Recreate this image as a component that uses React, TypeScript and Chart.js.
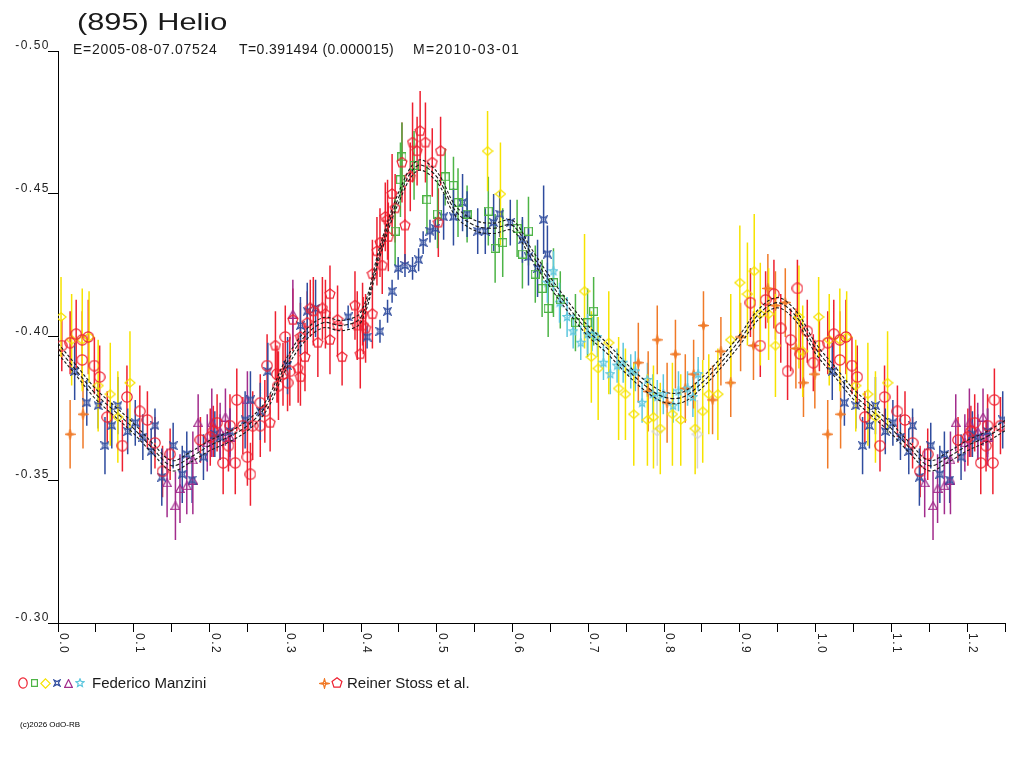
import { useEffect, useRef } from 'react';
import { Chart, registerables } from 'chart.js';

Chart.register(...registerables);

const FONT = '"Liberation Sans", Arial, Helvetica, sans-serif';

// one observation: [phase, magnitude, error]
type Obs = [number, number, number];

const xTickLabels = ['0.0', '0.1', '0.2', '0.3', '0.4', '0.5', '0.6', '0.7', '0.8', '0.9', '1.0', '1.1', '1.2'];
const yTickLabels = ['-0.50', '-0.45', '-0.40', '-0.35', '-0.30'];

// model light curve, sampled every 0.025 in phase (0 .. 1.25)
const modelPhase = Array.from({ length: 51 }, (_, i) => i * 0.025);
const modelMag = [
  -0.396, -0.388, -0.380, -0.374, -0.368, -0.361, -0.355, -0.358, -0.362, -0.365, -0.369,
  -0.376, -0.390, -0.400, -0.405, -0.404, -0.407, -0.430, -0.449, -0.460, -0.456,
  -0.444, -0.439, -0.438, -0.439, -0.429, -0.419, -0.410, -0.402, -0.396, -0.389,
  -0.383, -0.379, -0.379, -0.384, -0.391, -0.399, -0.408, -0.412, -0.407, -0.396,
  -0.388, -0.380, -0.374, -0.368, -0.361, -0.355, -0.358, -0.362, -0.365, -0.369,
];
const modelUpper = [
  -0.3978, -0.3898, -0.3818, -0.3758, -0.3698, -0.3628, -0.3568, -0.3598, -0.3638, -0.3668, -0.3708,
  -0.3778, -0.3918, -0.4018, -0.4068, -0.4058, -0.4088, -0.4318, -0.4508, -0.4618, -0.4578,
  -0.4458, -0.4408, -0.4398, -0.4408, -0.4308, -0.4208, -0.4118, -0.4038, -0.3978, -0.3908,
  -0.3848, -0.3808, -0.3808, -0.3858, -0.3928, -0.4008, -0.4098, -0.4138, -0.4088, -0.3978,
  -0.3898, -0.3818, -0.3758, -0.3698, -0.3628, -0.3568, -0.3598, -0.3638, -0.3668, -0.3708,
];
const modelLower = [
  -0.3942, -0.3862, -0.3782, -0.3722, -0.3662, -0.3592, -0.3532, -0.3562, -0.3602, -0.3632, -0.3672,
  -0.3742, -0.3882, -0.3982, -0.4032, -0.4022, -0.4052, -0.4282, -0.4472, -0.4582, -0.4542,
  -0.4422, -0.4372, -0.4362, -0.4372, -0.4272, -0.4172, -0.4082, -0.4002, -0.3942, -0.3872,
  -0.3812, -0.3772, -0.3772, -0.3822, -0.3892, -0.3972, -0.4062, -0.4102, -0.4052, -0.3942,
  -0.3862, -0.3782, -0.3722, -0.3662, -0.3592, -0.3532, -0.3562, -0.3602, -0.3632, -0.3672,
];

// Federico Manzini
const manziniCircles: Obs[] = [
  [0.005, -0.397, 0.009], [0.016, -0.398, 0.011], [0.024, -0.401, 0.012], [0.032, -0.399, 0.010],
  [0.040, -0.400, 0.013], [0.032, -0.392, 0.009], [0.048, -0.390, 0.010], [0.055, -0.386, 0.011],
  [0.065, -0.372, 0.009], [0.085, -0.362, 0.009], [0.091, -0.379, 0.011], [0.108, -0.374, 0.009],
  [0.118, -0.371, 0.010], [0.128, -0.363, 0.009], [0.138, -0.353, 0.009], [0.148, -0.359, 0.009],
  [0.188, -0.364, 0.008], [0.201, -0.365, 0.010], [0.205, -0.367, 0.009], [0.210, -0.370, 0.010],
  [0.218, -0.356, 0.011], [0.225, -0.362, 0.009], [0.227, -0.369, 0.011], [0.234, -0.356, 0.011],
  [0.236, -0.378, 0.011], [0.244, -0.369, 0.010], [0.250, -0.358, 0.010], [0.254, -0.352, 0.011],
  [0.257, -0.369, 0.012], [0.267, -0.369, 0.011], [0.267, -0.377, 0.010], [0.273, -0.374, 0.011],
  [0.276, -0.390, 0.011], [0.289, -0.387, 0.010], [0.291, -0.383, 0.012], [0.297, -0.387, 0.011],
  [0.300, -0.400, 0.011], [0.303, -0.384, 0.010], [0.306, -0.388, 0.012], [0.914, -0.412, 0.012],
  [0.927, -0.397, 0.011], [0.934, -0.413, 0.010], [0.945, -0.415, 0.012], [0.954, -0.403, 0.012],
  [0.963, -0.388, 0.010], [0.967, -0.399, 0.011], [0.976, -0.417, 0.010], [0.980, -0.394, 0.012],
  [0.989, -0.402, 0.011], [0.997, -0.391, 0.010],
];
const manziniSquares: Obs[] = [
  [0.445, -0.437, 0.012], [0.452, -0.455, 0.013], [0.454, -0.463, 0.012], [0.470, -0.460, 0.012],
  [0.487, -0.448, 0.012], [0.501, -0.443, 0.012], [0.511, -0.456, 0.010], [0.522, -0.453, 0.010],
  [0.528, -0.447, 0.012], [0.540, -0.443, 0.010], [0.568, -0.444, 0.012], [0.577, -0.431, 0.012],
  [0.587, -0.433, 0.012], [0.606, -0.438, 0.010], [0.613, -0.429, 0.012], [0.621, -0.437, 0.012],
  [0.630, -0.422, 0.010], [0.639, -0.417, 0.010], [0.647, -0.410, 0.010], [0.654, -0.419, 0.012],
  [0.663, -0.413, 0.010], [0.683, -0.405, 0.010], [0.699, -0.405, 0.012], [0.707, -0.409, 0.012],
];
const manziniDiamonds: Obs[] = [
  [0.004, -0.407, 0.014], [0.018, -0.399, 0.016], [0.032, -0.399, 0.018], [0.041, -0.400, 0.016],
  [0.053, -0.383, 0.016], [0.069, -0.380, 0.018], [0.079, -0.372, 0.016], [0.095, -0.384, 0.018],
  [0.567, -0.465, 0.014], [0.584, -0.450, 0.018], [0.695, -0.416, 0.020], [0.704, -0.393, 0.016],
  [0.713, -0.389, 0.018], [0.727, -0.398, 0.018], [0.740, -0.382, 0.018], [0.749, -0.380, 0.016],
  [0.760, -0.373, 0.018], [0.778, -0.371, 0.016], [0.786, -0.372, 0.018], [0.795, -0.368, 0.016],
  [0.811, -0.373, 0.018], [0.822, -0.371, 0.016], [0.841, -0.368, 0.016], [0.851, -0.374, 0.018],
  [0.859, -0.380, 0.014], [0.871, -0.380, 0.016], [0.888, -0.399, 0.016], [0.900, -0.419, 0.020],
  [0.910, -0.415, 0.018], [0.919, -0.423, 0.020], [0.927, -0.408, 0.018], [0.938, -0.408, 0.016],
  [0.947, -0.397, 0.018], [0.978, -0.407, 0.018], [0.983, -0.395, 0.016],
];
const manziniXStars: Obs[] = [
  [0.022, -0.388, 0.010], [0.038, -0.377, 0.008], [0.053, -0.376, 0.008], [0.062, -0.362, 0.010],
  [0.071, -0.369, 0.008], [0.079, -0.376, 0.010], [0.092, -0.367, 0.008], [0.102, -0.370, 0.008],
  [0.112, -0.365, 0.008], [0.123, -0.360, 0.008], [0.128, -0.369, 0.006], [0.137, -0.351, 0.010],
  [0.152, -0.362, 0.008], [0.164, -0.352, 0.010], [0.170, -0.359, 0.008], [0.177, -0.350, 0.008],
  [0.192, -0.358, 0.008], [0.207, -0.366, 0.008], [0.214, -0.365, 0.008], [0.227, -0.367, 0.008],
  [0.247, -0.371, 0.010], [0.254, -0.378, 0.010], [0.267, -0.374, 0.010], [0.277, -0.388, 0.010],
  [0.303, -0.390, 0.010], [0.320, -0.404, 0.010], [0.329, -0.409, 0.010], [0.340, -0.410, 0.010],
  [0.383, -0.407, 0.004], [0.408, -0.400, 0.004], [0.425, -0.402, 0.004], [0.435, -0.409, 0.004],
  [0.441, -0.416, 0.004], [0.449, -0.424, 0.004], [0.458, -0.425, 0.004], [0.468, -0.424, 0.004],
  [0.476, -0.427, 0.004], [0.482, -0.433, 0.004], [0.491, -0.437, 0.004], [0.498, -0.438, 0.004],
  [0.509, -0.442, 0.008], [0.522, -0.442, 0.010], [0.534, -0.447, 0.010], [0.540, -0.443, 0.008],
  [0.554, -0.437, 0.008], [0.564, -0.437, 0.008], [0.575, -0.440, 0.010], [0.583, -0.443, 0.008],
  [0.597, -0.440, 0.008], [0.613, -0.434, 0.008], [0.621, -0.428, 0.010], [0.633, -0.424, 0.010],
  [0.641, -0.441, 0.012], [0.646, -0.429, 0.010],
];
const manziniTriangles: Obs[] = [
  [0.144, -0.349, 0.012], [0.155, -0.341, 0.012], [0.161, -0.347, 0.012], [0.170, -0.348, 0.010],
  [0.178, -0.350, 0.012], [0.178, -0.357, 0.010], [0.185, -0.370, 0.010], [0.197, -0.363, 0.010],
  [0.203, -0.370, 0.012], [0.214, -0.367, 0.010], [0.221, -0.372, 0.010], [0.227, -0.365, 0.010],
  [0.250, -0.378, 0.010], [0.310, -0.408, 0.012],
];
const manziniStars: Obs[] = [
  [0.646, -0.419, 0.007], [0.654, -0.423, 0.007], [0.662, -0.412, 0.007], [0.672, -0.407, 0.007],
  [0.680, -0.402, 0.006], [0.690, -0.398, 0.006], [0.699, -0.401, 0.007], [0.705, -0.401, 0.006],
  [0.712, -0.400, 0.007], [0.720, -0.391, 0.006], [0.729, -0.387, 0.007], [0.738, -0.390, 0.006],
  [0.746, -0.391, 0.007], [0.756, -0.388, 0.006], [0.762, -0.388, 0.007], [0.771, -0.377, 0.007],
  [0.778, -0.385, 0.006], [0.785, -0.380, 0.007], [0.791, -0.379, 0.006], [0.799, -0.380, 0.007],
  [0.812, -0.376, 0.006], [0.819, -0.381, 0.007], [0.831, -0.382, 0.006], [0.838, -0.379, 0.007],
  [0.845, -0.387, 0.006],
];
const manziniPale: Obs[] = [
  [0.791, -0.367, 0.012], [0.844, -0.366, 0.012],
];

// Reiner Stoss et al.
const stossFourStars: Obs[] = [
  [0.016, -0.366, 0.012], [0.033, -0.373, 0.012], [0.766, -0.391, 0.014], [0.779, -0.381, 0.014],
  [0.791, -0.399, 0.012], [0.804, -0.377, 0.014], [0.815, -0.394, 0.012], [0.828, -0.382, 0.012],
  [0.839, -0.387, 0.012], [0.852, -0.404, 0.012], [0.864, -0.378, 0.012], [0.875, -0.395, 0.012],
  [0.888, -0.384, 0.012], [0.901, -0.400, 0.012], [0.918, -0.397, 0.012], [0.937, -0.417, 0.012],
  [0.947, -0.411, 0.012], [0.960, -0.412, 0.012], [0.974, -0.396, 0.014], [0.984, -0.384, 0.012],
  [0.999, -0.387, 0.012],
];
const stossPentagons: Obs[] = [
  [0.280, -0.370, 0.010], [0.287, -0.397, 0.012], [0.310, -0.406, 0.011], [0.317, -0.389, 0.012],
  [0.320, -0.386, 0.010], [0.320, -0.400, 0.012], [0.326, -0.393, 0.012], [0.329, -0.405, 0.011],
  [0.333, -0.410, 0.010], [0.337, -0.409, 0.012], [0.343, -0.398, 0.012], [0.349, -0.410, 0.011],
  [0.353, -0.408, 0.012], [0.359, -0.415, 0.010], [0.359, -0.399, 0.012], [0.369, -0.406, 0.012],
  [0.369, -0.404, 0.011], [0.375, -0.393, 0.010], [0.392, -0.411, 0.012], [0.395, -0.404, 0.012],
  [0.399, -0.394, 0.012], [0.402, -0.408, 0.011], [0.403, -0.404, 0.010], [0.406, -0.403, 0.012],
  [0.415, -0.408, 0.012], [0.415, -0.422, 0.012], [0.421, -0.430, 0.012], [0.425, -0.433, 0.012],
  [0.428, -0.425, 0.010], [0.432, -0.442, 0.012], [0.435, -0.441, 0.014], [0.436, -0.435, 0.012],
  [0.441, -0.450, 0.014], [0.445, -0.445, 0.012], [0.454, -0.461, 0.014], [0.458, -0.439, 0.014],
  [0.465, -0.456, 0.012], [0.468, -0.468, 0.014], [0.474, -0.465, 0.012], [0.478, -0.472, 0.014],
  [0.485, -0.468, 0.014], [0.494, -0.461, 0.012], [0.502, -0.440, 0.012], [0.505, -0.465, 0.012],
];

// the phase plot repeats the first quarter of the cycle after phase 1.0
const folded = (obs: Obs[]) =>
  obs
    .flatMap((o) => (o[0] < 0.25 ? [o, [o[0] + 1, o[1], o[2]] as Obs] : [o]))
    .map(([x, y, e]) => ({ x, y, e }));

function makeSymbol(kind: string, color: string, w: number, h: number = w) {
  const c = document.createElement('canvas');
  c.width = w;
  c.height = h;
  const ctx = c.getContext('2d')!;
  ctx.strokeStyle = color;
  ctx.lineWidth = 1.2;
  const cx = w / 2;
  const cy = h / 2;
  const r = Math.min(w, h) / 2 - 0.8;
  const poly = (n: number, rOut: number, rIn: number | null, start: number) => {
    const steps = rIn === null ? n : n * 2;
    for (let k = 0; k < steps; k++) {
      const a = start + (k * Math.PI * 2) / steps;
      const rr = rIn !== null && k % 2 === 1 ? rIn : rOut;
      const px = cx + Math.cos(a) * rr * (w / Math.min(w, h));
      const py = cy + Math.sin(a) * rr * (h / Math.min(w, h));
      if (k === 0) ctx.moveTo(px, py);
      else ctx.lineTo(px, py);
    }
    ctx.closePath();
  };
  ctx.beginPath();
  switch (kind) {
    case 'circle':
      ctx.ellipse(cx, cy, w / 2 - 0.8, h / 2 - 0.8, 0, 0, Math.PI * 2);
      break;
    case 'square':
      ctx.rect(0.6, 0.6, w - 1.2, h - 1.2);
      break;
    case 'diamond':
      poly(4, r, null, -Math.PI / 2);
      break;
    case 'triangle':
      ctx.moveTo(cx, 0.6);
      ctx.lineTo(w - 0.6, h - 0.6);
      ctx.lineTo(0.6, h - 0.6);
      ctx.closePath();
      break;
    case 'xstar':
      poly(4, r * 1.35, r * 0.45, -Math.PI * 0.75);
      break;
    case 'star5':
      poly(5, r, r * 0.45, -Math.PI / 2);
      break;
    case 'star4':
      poly(4, r, r * 0.3, -Math.PI / 2);
      ctx.moveTo(0, cy);
      ctx.lineTo(w, cy);
      break;
    case 'pentagon':
      poly(5, r, null, -Math.PI / 2);
      break;
  }
  ctx.stroke();
  return c;
}

const RED = '#EE2030';
const GREEN = '#4DB446';
const YELLOW = '#F6E300';
const BLUE = '#2F4C9E';
const PURPLE = '#A22C8C';
const CYAN = '#5CC6DE';
const ORANGE = '#F07A28';
const PALE = '#D4D4D4';

export default function App() {
  const canvasRef = useRef<HTMLCanvasElement | null>(null);
  const chartRef = useRef<Chart | null>(null);

  useEffect(() => {
    document.body.style.margin = '0';
    document.body.style.background = '#fff';
    if (!canvasRef.current) return;

    const sym = {
      circle: makeSymbol('circle', RED, 12, 12),
      square: makeSymbol('square', GREEN, 9, 9),
      diamond: makeSymbol('diamond', YELLOW, 12, 10),
      xstar: makeSymbol('xstar', BLUE, 9, 9),
      triangle: makeSymbol('triangle', PURPLE, 10, 9),
      star5: makeSymbol('star5', CYAN, 10, 10),
      star4: makeSymbol('star4', ORANGE, 11, 11),
      pentagon: makeSymbol('pentagon', RED, 12, 12),
      pale: makeSymbol('diamond', PALE, 12, 10),
    };
    const legendSym = [
      { img: makeSymbol('circle', RED, 10, 12), x: 22.5 },
      { img: makeSymbol('square', GREEN, 7, 8), x: 34.5 },
      { img: makeSymbol('diamond', YELLOW, 11, 11), x: 45 },
      { img: makeSymbol('xstar', BLUE, 8, 8), x: 57 },
      { img: makeSymbol('triangle', PURPLE, 9, 9), x: 68.5 },
      { img: makeSymbol('star5', CYAN, 10, 10), x: 80 },
      { img: makeSymbol('star4', ORANGE, 11, 11), x: 324 },
      { img: makeSymbol('pentagon', RED, 12, 12), x: 336.5 },
    ];

    const errorBars = {
      id: 'errorBars',
      beforeDatasetsDraw(chart: Chart) {
        const { ctx } = chart;
        const ys = chart.scales.y;
        chart.data.datasets.forEach((ds: any, i: number) => {
          if (!ds.errorColor) return;
          const meta = chart.getDatasetMeta(i);
          ctx.save();
          ctx.strokeStyle = ds.errorColor;
          ctx.lineWidth = 1.5;
          ctx.beginPath();
          meta.data.forEach((el: any, j: number) => {
            const raw = ds.data[j];
            ctx.moveTo(el.x, ys.getPixelForValue(raw.y - raw.e));
            ctx.lineTo(el.x, ys.getPixelForValue(raw.y + raw.e));
          });
          ctx.stroke();
          ctx.restore();
        });
      },
    };

    const decor = {
      id: 'decor',
      afterDraw(chart: Chart) {
        const { ctx } = chart;
        const xs = chart.scales.x;
        const ys = chart.scales.y;
        ctx.save();
        ctx.fillStyle = '#222';
        ctx.font = `12px ${FONT}`;
        (ctx as any).letterSpacing = '1.5px';
        ctx.textBaseline = 'alphabetic';
        ctx.textAlign = 'right';
        yTickLabels.forEach((l) => {
          const py = ys.getPixelForValue(parseFloat(l));
          ctx.fillText(l, 50, py - 2);
        });
        ctx.textAlign = 'left';
        xTickLabels.forEach((l) => {
          const px = xs.getPixelForValue(parseFloat(l));
          ctx.save();
          ctx.translate(px + 2, xs.top + 10);
          ctx.rotate(Math.PI / 2);
          ctx.fillText(l, 0, 0);
          ctx.restore();
        });
        legendSym.forEach((s) => {
          ctx.drawImage(s.img, Math.round(s.x - s.img.width / 2), Math.round(683 - s.img.height / 2));
        });
        ctx.restore();
      },
    };

    const lineDs = (label: string, ys: number[], dash: number[]) => ({
      type: 'line' as const,
      label,
      data: modelPhase.map((x, i) => ({ x, y: ys[i] })),
      showLine: true,
      borderColor: '#1a1a1a',
      borderWidth: 1.1,
      borderDash: dash,
      pointRadius: 0,
      tension: 0.35,
      fill: false,
    });

    const pointDs = (label: string, obs: Obs[], style: HTMLCanvasElement, color: string) => ({
      type: 'scatter' as const,
      label,
      data: folded(obs),
      pointStyle: style,
      pointRadius: 5,
      errorColor: color,
    });

    chartRef.current?.destroy();
    chartRef.current = new Chart(canvasRef.current, {
      type: 'scatter',
      data: {
        datasets: [
          lineDs('model', modelMag, [4, 2]),
          lineDs('model +', modelUpper, [3, 2]),
          lineDs('model -', modelLower, [3, 2]),
          pointDs('Manzini circles', manziniCircles, sym.circle, RED),
          pointDs('Stoss pentagons', stossPentagons, sym.pentagon, RED),
          pointDs('Manzini squares', manziniSquares, sym.square, GREEN),
          pointDs('Manzini stars', manziniStars, sym.star5, CYAN),
          pointDs('Manzini x-stars', manziniXStars, sym.xstar, BLUE),
          pointDs('Manzini triangles', manziniTriangles, sym.triangle, PURPLE),
          pointDs('Stoss four-stars', stossFourStars, sym.star4, ORANGE),
          pointDs('Manzini diamonds', manziniDiamonds, sym.diamond, YELLOW),
          pointDs('Manzini pale', manziniPale, sym.pale, PALE),
        ] as any,
      },
      options: {
        animation: false,
        responsive: true,
        maintainAspectRatio: false,
        events: [],
        layout: { padding: { top: 51, right: 19, bottom: 0, left: 0 } },
        plugins: {
          legend: { display: false },
          title: { display: false },
          tooltip: { enabled: false },
        },
        scales: {
          x: {
            type: 'linear',
            min: 0,
            max: 1.25,
            afterFit: (scale: any) => {
              scale.height = 145;
            },
            ticks: { display: false, stepSize: 0.05, autoSkip: false, maxTicksLimit: 100 },
            grid: { drawOnChartArea: false, drawTicks: true, tickLength: 9, color: '#000' },
            border: { display: true, color: '#000', width: 1 },
          },
          y: {
            type: 'linear',
            min: -0.5,
            max: -0.3,
            reverse: true,
            afterFit: (scale: any) => {
              scale.width = 58;
            },
            ticks: { display: false, stepSize: 0.05, maxTicksLimit: 100 },
            grid: { drawOnChartArea: false, drawTicks: true, tickLength: 10, color: '#000' },
            border: { display: true, color: '#000', width: 1 },
          },
        },
      },
      plugins: [errorBars, decor],
    });

    return () => {
      chartRef.current?.destroy();
      chartRef.current = null;
    };
  }, []);

  const text = { position: 'absolute' as const, whiteSpace: 'pre' as const, color: '#1a1a1a' };

  return (
    <div style={{ position: 'relative', width: 1024, height: 768, background: '#fff', fontFamily: FONT }}>
      <div style={{ position: 'absolute', left: 0, top: 0, width: 1024, height: 768 }}>
        <canvas ref={canvasRef} />
      </div>
      <div
        style={{
          ...text,
          left: 77,
          top: 10,
          fontSize: 24,
          lineHeight: '24px',
          transform: 'scaleX(1.28)',
          transformOrigin: 'left top',
        }}
      >
        (895) Helio
      </div>
      <div style={{ ...text, left: 73, top: 42, fontSize: 14, lineHeight: '14px', letterSpacing: 0.7 }}>E=2005-08-07.07524</div>
      <div style={{ ...text, left: 239, top: 42, fontSize: 14, lineHeight: '14px', letterSpacing: 0.4 }}>T=0.391494 (0.000015)</div>
      <div style={{ ...text, left: 413, top: 42, fontSize: 14, lineHeight: '14px', letterSpacing: 1.3 }}>M=2010-03-01</div>
      <div style={{ ...text, left: 92, top: 675, fontSize: 15, lineHeight: '15px' }}>Federico Manzini</div>
      <div style={{ ...text, left: 347, top: 675, fontSize: 15, lineHeight: '15px' }}>Reiner Stoss et al.</div>
      <div style={{ ...text, left: 20, top: 721, fontSize: 8, lineHeight: '8px', color: '#000' }}>(c)2026 OdO-RB</div>
    </div>
  );
}
